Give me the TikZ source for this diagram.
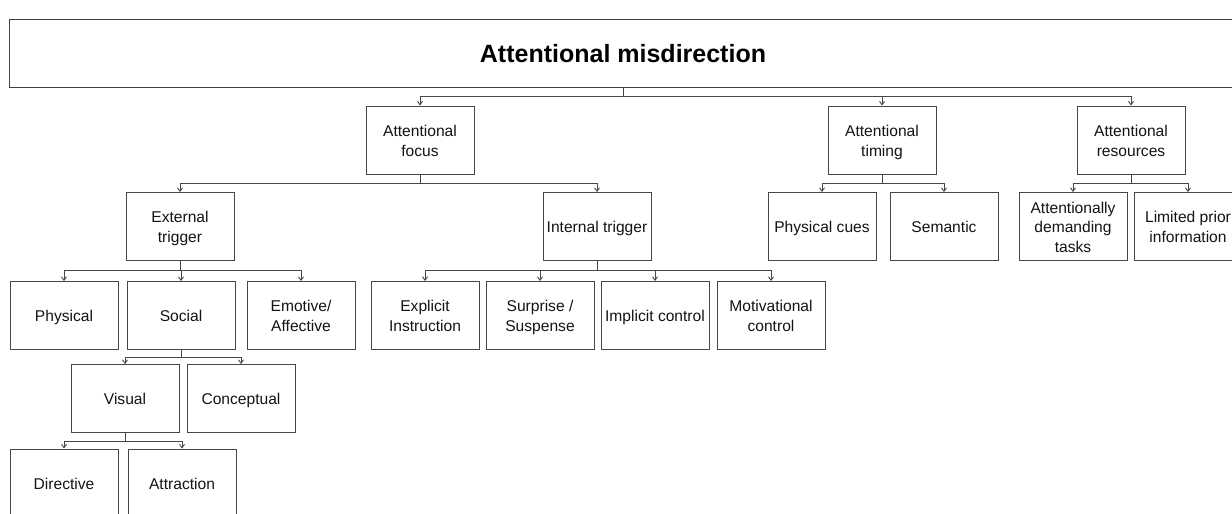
\documentclass[tikz,border=0pt]{standalone}
\usepackage{fontspec}
\setmainfont{Liberation Sans}
\usetikzlibrary{arrows.meta}
\newcommand{\Ls}{\rule[-3.6pt]{0pt}{19.8pt}}
\begin{document}
\begin{tikzpicture}[x=1pt,y=-1pt,
  box/.style={draw=black!72, line width=0.9pt, minimum width=108pt, minimum height=68pt,
    inner sep=1pt, align=center, font=\fontsize{15.6}{19.8}\selectfont, text=black!92},
  titlebox/.style={draw=black!75, line width=1pt, minimum width=1228pt, minimum height=68pt,
    inner sep=0pt, font=\bfseries\fontsize{25}{30}\selectfont, text=black},
  conn/.style={draw=black!72, line width=0.9pt, -{Straight Barb[length=3.5pt,width=5pt]}}]
\clip (0,0) rectangle (1232,514);
\fill[white] (0,0) rectangle (1232,514);
% title
\node[titlebox] (title) at (623,53.5) {Attentional misdirection};
% level 1
\node[box] (focus) at (420,140) {\Ls Attentional\\\Ls focus};
\node[box] (timing) at (882,140) {\Ls Attentional\\\Ls timing};
\node[box] (resources) at (1131,140) {\Ls Attentional\\\Ls resources};
% level 2
\node[box] (external) at (180,226.5) {\Ls External\\\Ls trigger};
\node[box] (internal) at (597,226.5) {\Ls Internal trigger};
\node[box] (physcues) at (822,226.5) {\Ls Physical cues};
\node[box] (semantic) at (944,226.5) {\Ls Semantic};
\node[box] (demanding) at (1073,226.5) {\Ls Attentionally\\\Ls demanding\\\Ls tasks};
\node[box] (limited) at (1188,226.5) {\Ls Limited prior\\\Ls information};
% level 3
\node[box] (physical) at (64,315.5) {\Ls Physical};
\node[box] (social) at (181,315.5) {\Ls Social};
\node[box] (emotive) at (301,315.5) {\Ls Emotive/\\\Ls Affective};
\node[box] (explicit) at (425,315.5) {\Ls Explicit\\\Ls Instruction};
\node[box] (surprise) at (540,315.5) {\Ls Surprise /\\\Ls Suspense};
\node[box] (implicit) at (655,315.5) {\Ls Implicit control};
\node[box] (motivational) at (771,315.5) {\Ls Motivational\\\Ls control};
% level 4
\node[box] (visual) at (125,398.5) {\Ls Visual};
\node[box] (conceptual) at (241,398.5) {\Ls Conceptual};
% level 5
\node[box] (directive) at (64,483) {\Ls Directive};
\node[box] (attraction) at (182,483) {\Ls Attraction};
% connectors
\foreach \c in {focus,timing,resources}
  \draw[conn] (title.south) -- ++(0,8.5) -| (\c.north);
\foreach \c in {external,internal}
  \draw[conn] (focus.south) -- ++(0,9) -| (\c.north);
\foreach \c in {physcues,semantic}
  \draw[conn] (timing.south) -- ++(0,9) -| (\c.north);
\foreach \c in {demanding,limited}
  \draw[conn] (resources.south) -- ++(0,9) -| (\c.north);
\foreach \c in {physical,social,emotive}
  \draw[conn] (external.south) -- ++(0,9.5) -| (\c.north);
\foreach \c in {explicit,surprise,implicit,motivational}
  \draw[conn] (internal.south) -- ++(0,9.5) -| (\c.north);
\foreach \c in {visual,conceptual}
  \draw[conn] (social.south) -- ++(0,7) -| (\c.north);
\foreach \c in {directive,attraction}
  \draw[conn] (visual.south) -- ++(0,8.5) -| (\c.north);
\end{tikzpicture}
\end{document}
